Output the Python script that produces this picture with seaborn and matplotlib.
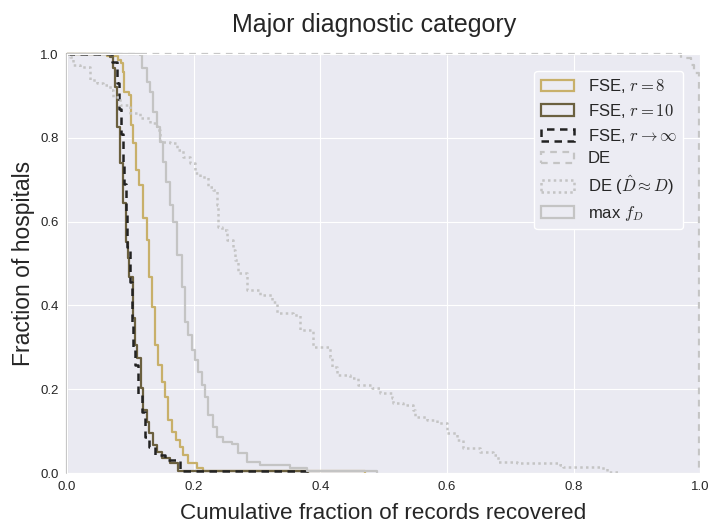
import matplotlib
matplotlib.use("Agg")
import matplotlib.pyplot as plt
from matplotlib.patches import Patch
import seaborn as sns
import pandas as pd

# ---- data ----
fse8_x = [0, 0.063, 0.081, 0.085, 0.088, 0.090, 0.098, 0.101, 0.104, 0.109, 0.114, 0.120, 0.126,
          0.129, 0.134, 0.139, 0.144, 0.150, 0.155, 0.160, 0.166, 0.172, 0.179, 0.183, 0.191, 0.205,
          0.215, 0.47]
fse8_y = [1, 0.995, 0.986, 0.979, 0.957, 0.909, 0.902, 0.831, 0.788, 0.723, 0.687, 0.609, 0.556,
          0.468, 0.396, 0.305, 0.258, 0.217, 0.181, 0.126, 0.098, 0.079, 0.062, 0.043, 0.024, 0.012,
          0.004, 0.0]

fse10_x = [0, 0.068, 0.073, 0.076, 0.079, 0.084, 0.088, 0.093, 0.096, 0.098, 0.104, 0.107, 0.111,
           0.117, 0.120, 0.126, 0.130, 0.136, 0.142, 0.150, 0.163, 0.175, 0.38]
fse10_y = [1, 0.993, 0.967, 0.921, 0.826, 0.740, 0.644, 0.551, 0.513, 0.468, 0.370, 0.305, 0.274,
           0.203, 0.150, 0.122, 0.095, 0.067, 0.050, 0.036, 0.024, 0.004, 0.0]

fseinf_x = [0, 0.071, 0.079, 0.082, 0.085, 0.088, 0.090, 0.093, 0.095, 0.0995, 0.103, 0.104, 0.107,
            0.112, 0.118, 0.123, 0.130, 0.139, 0.155, 0.179, 0.38]
fseinf_y = [1, 0.98, 0.93, 0.87, 0.81, 0.74, 0.69, 0.62, 0.54, 0.456, 0.360, 0.298, 0.258,
            0.186, 0.146, 0.086, 0.062, 0.043, 0.031, 0.004, 0.0]

de_x = [0, 0.97, 0.985, 0.99, 0.998]
de_y = [1, 0.99, 0.975, 0.955, 0.0]

deh_x = [0, 0.005, 0.009, 0.021, 0.036, 0.047, 0.057, 0.068, 0.073, 0.084, 0.0995, 0.115, 0.131,
         0.142, 0.147, 0.163, 0.174, 0.183, 0.194, 0.202, 0.210, 0.223, 0.231, 0.237, 0.239, 0.245,
         0.253, 0.262, 0.265, 0.270, 0.284, 0.305, 0.324, 0.332, 0.357, 0.368, 0.389, 0.415, 0.419,
         0.427, 0.447, 0.460, 0.482, 0.494, 0.513, 0.515, 0.531, 0.547, 0.550, 0.569, 0.585, 0.600,
         0.616, 0.626, 0.652, 0.673, 0.681, 0.711, 0.779, 0.784, 0.842, 0.853, 0.870]
deh_y = [1, 0.993, 0.974, 0.969, 0.938, 0.931, 0.926, 0.914, 0.897, 0.878, 0.859, 0.847, 0.835,
         0.819, 0.790, 0.788, 0.771, 0.754, 0.740, 0.716, 0.706, 0.683, 0.675, 0.640, 0.587, 0.580,
         0.556, 0.532, 0.508, 0.477, 0.437, 0.425, 0.408, 0.382, 0.377, 0.341, 0.301, 0.277, 0.253,
         0.234, 0.227, 0.210, 0.203, 0.191, 0.179, 0.167, 0.162, 0.150, 0.134, 0.126, 0.119, 0.095,
         0.079, 0.060, 0.050, 0.043, 0.026, 0.024, 0.019, 0.014, 0.012, 0.003, 0.0]

maxf_x = [0, 0, 0.115, 0.118, 0.126, 0.131, 0.136, 0.142, 0.147, 0.152, 0.156, 0.163, 0.167, 0.174,
          0.182, 0.186, 0.191, 0.197, 0.202, 0.207, 0.213, 0.218, 0.223, 0.231, 0.237, 0.246, 0.261,
          0.270, 0.284, 0.305, 0.352, 0.379, 0.49]
maxf_y = [0, 1, 0.998, 0.967, 0.933, 0.909, 0.862, 0.826, 0.790, 0.742, 0.695, 0.640, 0.599, 0.520,
          0.444, 0.360, 0.329, 0.294, 0.270, 0.241, 0.210, 0.181, 0.138, 0.110, 0.086, 0.074, 0.069,
          0.048, 0.026, 0.019, 0.012, 0.004, 0.0]

labels = [r"FSE, $r=8$", r"FSE, $r=10$", r"FSE, $r\rightarrow\infty$", "DE",
          r"DE ($\hat{D}\approx D$)", r"max $f_D$"]

# ---- style ----
sns.set_style("darkgrid", {"grid.linewidth": 1.4})
plt.rcParams["font.family"] = ["Liberation Sans", "DejaVu Sans"]
plt.rcParams["mathtext.fontset"] = "cm"

fig = plt.figure(figsize=(7.13, 5.23), dpi=100)
ax = fig.add_axes([0.094, 0.0956, 0.888, 0.801])

series = [
    (fse8_x, fse8_y, "#c8b06a", "-", 1.6),
    (fse10_x, fse10_y, "#6b603f", "-", 1.6),
    (fseinf_x, fseinf_y, "#222222", (0, (3, 2.2)), 1.8),
    (de_x, de_y, "#c4c4c4", (0, (3, 2.5)), 1.6),
    (deh_x, deh_y, "#c4c4c4", (0, (1, 1.3)), 1.8),
    (maxf_x, maxf_y, "#c4c4c4", "-", 1.6),
]

handles = []
for (xs, ys, c, ls, lw), lab in zip(series, labels):
    df = pd.DataFrame({"x": xs, "y": ys})
    sns.lineplot(data=df, x="x", y="y", ax=ax, color=c, linestyle=ls, linewidth=lw,
                 drawstyle="steps-post", estimator=None, sort=False, clip_on=False)
    handles.append(Patch(facecolor="none", edgecolor=c, linestyle=ls, linewidth=lw, label=lab))

ax.set_xlim(0, 1)
ax.set_ylim(0, 1)
ax.set_xticks([0, 0.2, 0.4, 0.6, 0.8, 1.0])
ax.set_yticks([0, 0.2, 0.4, 0.6, 0.8, 1.0])
ax.set_xticklabels(["0.0", "0.2", "0.4", "0.6", "0.8", "1.0"])
ax.set_yticklabels(["0.0", "0.2", "0.4", "0.6", "0.8", "1.0"])
ax.tick_params(labelsize=9.5, length=0, pad=6)
ax.set_xlabel("Cumulative fraction of records recovered", fontsize=16.2, labelpad=7)
ax.set_ylabel("Fraction of hospitals", fontsize=16.5, labelpad=4)
ax.set_title("Major diagnostic category", fontsize=18, pad=16, x=0.485)

leg = ax.legend(handles=handles, loc="upper right", fontsize=12, frameon=True,
                borderaxespad=1.0, labelspacing=0.4, facecolor="#ececf3",
                edgecolor="white", framealpha=1.0)

fig.savefig("out.png", dpi=100)
